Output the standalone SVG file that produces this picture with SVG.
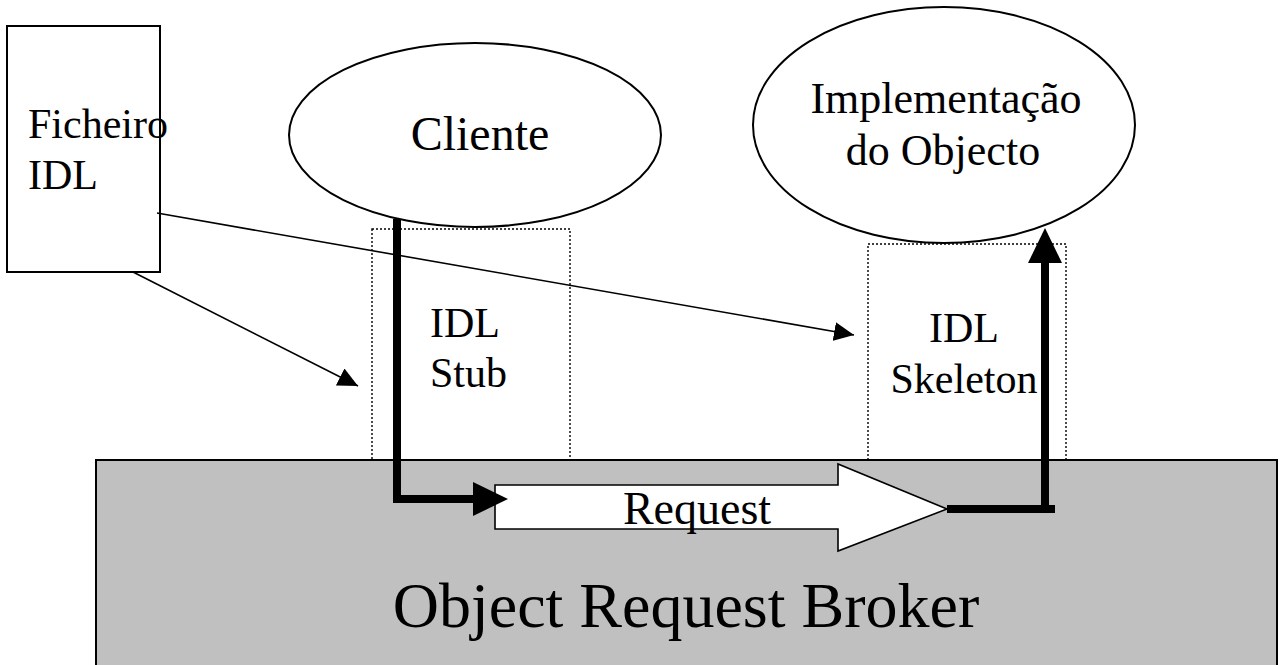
<svg xmlns="http://www.w3.org/2000/svg" width="1281" height="665" viewBox="0 0 1281 665">
  <style>
    text { font-family: "Liberation Serif", "Times New Roman", serif; fill: #000; }
    .solid { fill: #fff; stroke: #000; stroke-width: 2; }
    .dotted { fill: none; stroke: #000; stroke-width: 1.4; stroke-dasharray: 2 2; }
    .thin { fill: none; stroke: #000; stroke-width: 1.6; }
    .thick { fill: none; stroke: #000; stroke-width: 8; stroke-linejoin: miter; stroke-linecap: butt; }
  </style>
  <defs>
    <marker id="tip" markerUnits="userSpaceOnUse" markerWidth="21" markerHeight="20" refX="20" refY="9.5" orient="auto">
      <path d="M0,0 L20,9.5 L0,19 Z" fill="#000"/>
    </marker>
    <marker id="bigtip" markerUnits="userSpaceOnUse" markerWidth="36" markerHeight="35" refX="0" refY="17" orient="auto">
      <path d="M0,0 L35,17 L0,34 Z" fill="#000"/>
    </marker>
  </defs>

  <rect width="1281" height="665" fill="#fff"/>

  <!-- stub / skeleton outlines -->
  <g id="stub">
    <rect class="dotted" x="372" y="229" width="198" height="231"/>
    <text x="430" y="337" font-size="42">IDL</text>
    <text x="430" y="387" font-size="42">Stub</text>
  </g>
  <g id="skeleton">
    <rect class="dotted" x="868" y="244" width="198" height="216"/>
    <text x="964" y="342" font-size="42" text-anchor="middle">IDL</text>
    <text x="964" y="393" font-size="42" text-anchor="middle">Skeleton</text>
  </g>

  <!-- broker bus -->
  <g id="orb">
    <rect x="96" y="460" width="1181" height="215" fill="#c0c0c0" stroke="#000" stroke-width="2"/>
    <text x="686" y="627" font-size="64" text-anchor="middle">Object Request Broker</text>
  </g>

  <g id="request">
    <path d="M495,485 L838,485 L838,464 L947,509 L838,551 L838,529 L495,529 Z" fill="#fff" stroke="#000" stroke-width="1.6" stroke-linejoin="miter"/>
    <text x="697" y="524" font-size="46" text-anchor="middle">Request</text>
  </g>

  <g id="idl-file">
    <rect class="solid" x="7" y="26" width="153" height="246"/>
    <text x="28" y="138" font-size="42">Ficheiro</text>
    <text x="28" y="189" font-size="42">IDL</text>
  </g>

  <g id="client">
    <ellipse class="solid" cx="475" cy="135" rx="186" ry="92"/>
    <text x="480" y="150" font-size="48" text-anchor="middle">Cliente</text>
  </g>

  <g id="implementation">
    <ellipse class="solid" cx="944" cy="125" rx="191" ry="118"/>
    <text x="946" y="113" font-size="44" text-anchor="middle">Implementação</text>
    <text x="943" y="165" font-size="44" text-anchor="middle">do Objecto</text>
  </g>

  <!-- connectors -->
  <g id="connectors">
    <line class="thin" x1="157" y1="213" x2="854" y2="335" marker-end="url(#tip)"/>
    <line class="thin" x1="133" y1="272" x2="358" y2="386" marker-end="url(#tip)"/>
    <polyline class="thick" points="397,219 397,499 473,499" marker-end="url(#bigtip)"/>
    <polyline class="thick" points="947,509 1045,509 1045,263" marker-end="url(#bigtip)"/>
    <line class="thick" x1="1040" y1="509" x2="1055" y2="509"/>
  </g>
</svg>
